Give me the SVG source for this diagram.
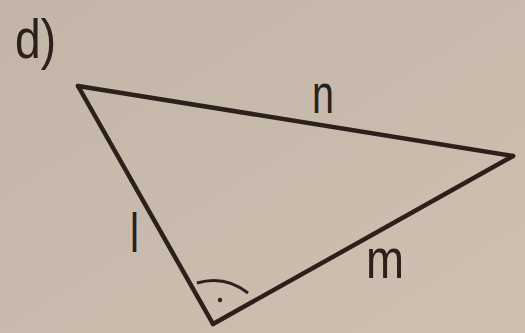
<svg xmlns="http://www.w3.org/2000/svg" width="525" height="333" viewBox="0 0 525 333">
<defs>
<linearGradient id="bg" x1="0" y1="0" x2="1" y2="1">
<stop offset="0" stop-color="#c3b5a7"/>
<stop offset="0.5" stop-color="#c8baac"/>
<stop offset="1" stop-color="#d0c0b0"/>
</linearGradient>
<style>
.lbl{font-family:"Liberation Sans",Arial,sans-serif;font-size:56px;fill:#2b201b}
.edge{stroke:#2b201b;stroke-width:4.5;fill:none;stroke-linejoin:round;stroke-linecap:round}
.thin{stroke:#2b201b;stroke-width:3;fill:none}
</style>
</defs>
<rect width="525" height="333" fill="url(#bg)"/>
<text class="lbl" x="15" y="58" textLength="41" lengthAdjust="spacingAndGlyphs">d)</text>
<g id="connectors">
<g id="edge-n"><line class="edge" x1="78" y1="86" x2="513" y2="156"/></g>
<g id="edge-l"><line class="edge" x1="78" y1="86" x2="213" y2="324"/></g>
<g id="edge-m"><line class="edge" x1="213" y1="324" x2="513" y2="156"/></g>
</g>
<g id="right-angle">
<path class="thin" d="M197,283 Q225,275 248,293"/>
<circle cx="220" cy="300" r="2.2" fill="#2b201b"/>
</g>
<g id="label-n"><text class="lbl" x="312" y="113" textLength="22" lengthAdjust="spacingAndGlyphs">n</text></g>
<g id="label-l"><text class="lbl" x="130" y="252" textLength="9" lengthAdjust="spacingAndGlyphs">l</text></g>
<g id="label-m"><text class="lbl" x="366" y="278" textLength="38" lengthAdjust="spacingAndGlyphs">m</text></g>
</svg>
